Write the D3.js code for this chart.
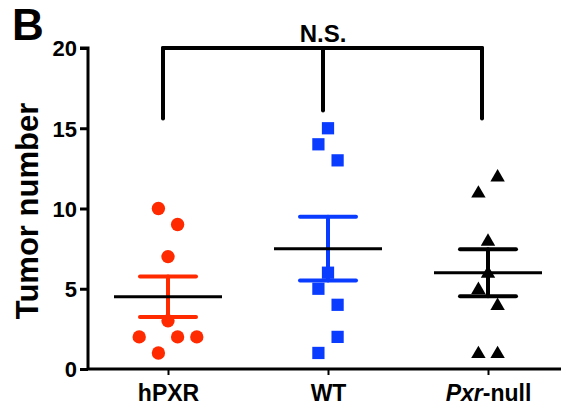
<!DOCTYPE html>
<html><head><meta charset="utf-8">
<script src="https://cdn.jsdelivr.net/npm/d3@7"></script>
<style>body{margin:0;background:#fff}svg{display:block}text{font-family:"Liberation Sans",Arial,sans-serif;font-weight:bold}</style>
</head><body>
<svg id="c" width="561" height="411"></svg>
<script>
const categories = ["hPXR", "WT", "Pxr-null"];
const hPXR = [10, 9, 7, 3, 2, 2, 2, 1];
const WT = [15, 14, 13, 6, 5, 4, 2, 1];
const PxrNull = [12, 11, 8, 6, 5, 4, 1, 1];
// horizontal scatter slot of each point (GraphPad-style column arrangement)
const hPXRSlots = [-1, 1, 0, 0, -3, 1, 3, -1];
const WTSlots = [0, -1, 1, 0, -1, 1, 1, -1];
const PxrNullSlots = [1, -1, 0, 0, -1, 1, -1, 1];
const yTicks = [0, 5, 10, 15, 20];
const sigLabel = "N.S.";
const bracketTop = 20;
const bracketDrops = [15.6, 16.1, 15.6];
const colors = ["#ff2a00", "#0a3cff", "#000000"];
const shapes = ["circle", "square", "triangle"];

const series = [hPXR, WT, PxrNull];
const slots = [hPXRSlots, WTSlots, PxrNullSlots];

const svg = d3.select("#c");
const x = d3.scalePoint().domain(categories).range([88, 568]).padding(0.5);
const y = d3.scaleLinear().domain([0, 20]).range([369, 48]);
const slotW = 9.6;

// Axes
const yAxis = svg.append("g").attr("transform", "translate(88,0)")
  .call(d3.axisLeft(y).tickValues(yTicks).tickSize(8).tickPadding(3));
yAxis.select(".domain").attr("stroke-width", 3).attr("d", `M-8,${y(20)}H0V${y(0)}`);
yAxis.selectAll(".tick line").attr("stroke-width", 3);
yAxis.selectAll(".tick text").attr("font-size", 22).attr("fill", "#000").attr("dy", "0.36em");

const xAxis = svg.append("g").attr("transform", `translate(0,${y(0)})`)
  .call(d3.axisBottom(x).tickSize(6).tickPadding(10));
xAxis.select(".domain").attr("stroke-width", 3).attr("d", `M88,0H561`);
xAxis.selectAll(".tick line").attr("stroke-width", 2);
xAxis.selectAll(".tick text").attr("font-size", 23).attr("fill", "#000").text(null)
  .each(function(d) {
    const t = d3.select(this);
    if (d === "Pxr-null") {
      t.append("tspan").attr("font-style", "italic").text("Pxr");
      t.append("tspan").text("-null");
    } else t.text(d);
  });

// Y label
svg.append("text").attr("transform", `translate(38,211) rotate(-90)`)
  .attr("text-anchor", "middle").attr("font-size", 31).text("Tumor number");

// Panel letter
svg.append("text").attr("x", 12).attr("y", 40).attr("font-size", 44).text("B");

// Bracket
const bx = categories.map(c => x(c));
bx[0] -= 5; bx[1] -= 5; bx[2] -= 6;
const br = svg.append("g").attr("stroke", "#000").attr("stroke-width", 4).attr("stroke-linecap", "round").attr("fill", "none");
br.append("line").attr("x1", bx[0]).attr("x2", bx[2]).attr("y1", y(bracketTop)).attr("y2", y(bracketTop));
bx.forEach((xx, i) => br.append("line").attr("x1", xx).attr("x2", xx).attr("y1", y(bracketTop)).attr("y2", y(bracketDrops[i])));
svg.append("text").attr("x", bx[1]).attr("y", 42).attr("text-anchor", "middle").attr("font-size", 24).text(sigLabel);

// Stats
const sym = {circle: d3.symbol(d3.symbolCircle, 140), square: d3.symbol(d3.symbolSquare, 150), triangle: d3.symbol(d3.symbolTriangle, 90)};

series.forEach((vals, i) => {
  const cx = x(categories[i]);
  const m = d3.mean(vals);
  const sem = d3.deviation(vals) / Math.sqrt(vals.length);
  const g = svg.append("g");
  // points
  g.selectAll("path.pt").data(vals).join("path").attr("class", "pt")
    .attr("d", sym[shapes[i]])
    .attr("transform", (v, j) => `translate(${cx + slots[i][j] * slotW},${y(v) + (shapes[i]==="triangle" ? 1 : 0)})`)
    .attr("fill", colors[i]);
  // error bars
  const eb = g.append("g").attr("stroke", colors[i]).attr("stroke-width", 4).attr("stroke-linecap", "round");
  eb.append("line").attr("x1", cx).attr("x2", cx).attr("y1", y(m + sem)).attr("y2", y(m - sem));
  [m + sem, m - sem].forEach(v => eb.append("line").attr("x1", cx - 28).attr("x2", cx + 28).attr("y1", y(v)).attr("y2", y(v)));
  // mean line
  g.append("line").attr("x1", cx - 54).attr("x2", cx + 54).attr("y1", y(m)).attr("y2", y(m))
    .attr("stroke", "#000").attr("stroke-width", 3);
});
</script>
</body></html>
